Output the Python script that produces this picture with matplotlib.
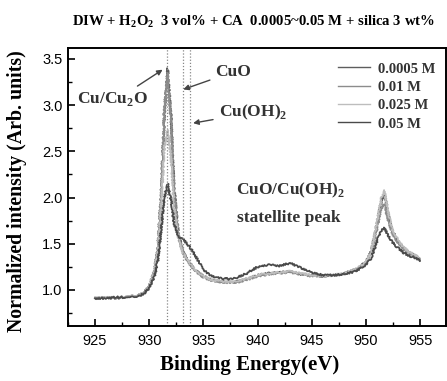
import matplotlib
matplotlib.use("Agg")
import matplotlib.pyplot as plt
from matplotlib.ticker import MultipleLocator
from matplotlib.lines import Line2D

plt.rcParams['mathtext.fontset'] = 'custom'
plt.rcParams['mathtext.rm'] = 'Liberation Serif:bold'
plt.rcParams['mathtext.bf'] = 'Liberation Serif:bold'

# ---- data ----
energy = [925, 926, 927, 928, 929, 929.5, 930, 930.5, 930.8, 931.1, 931.4, 931.7, 932.0,
          932.3, 932.7, 933.1, 933.5, 934, 934.5, 935, 935.5, 936, 937, 938, 939, 940,
          941, 942, 943, 944, 945, 946, 947, 948, 949, 950, 950.5, 951, 951.4, 951.7,
          952, 952.4, 953, 953.5, 954, 954.5, 955]

int_00005 = [0.91, 0.92, 0.91, 0.93, 0.94, 0.97, 1.03, 1.20, 1.45, 2.00, 2.90, 3.40, 2.90,
             2.10, 1.60, 1.42, 1.33, 1.25, 1.19, 1.15, 1.12, 1.10, 1.09, 1.09, 1.12, 1.16,
             1.18, 1.19, 1.20, 1.17, 1.16, 1.15, 1.16, 1.18, 1.22, 1.30, 1.42, 1.70, 1.95,
             2.05, 1.85, 1.65, 1.52, 1.45, 1.40, 1.38, 1.33]
int_001 = [0.92, 0.91, 0.92, 0.92, 0.94, 0.97, 1.04, 1.22, 1.48, 2.05, 2.95, 3.35, 2.85,
           2.05, 1.58, 1.40, 1.32, 1.24, 1.18, 1.14, 1.11, 1.10, 1.08, 1.08, 1.11, 1.15,
           1.17, 1.18, 1.19, 1.17, 1.15, 1.15, 1.16, 1.17, 1.21, 1.29, 1.40, 1.66, 1.88,
           1.93, 1.78, 1.62, 1.50, 1.44, 1.40, 1.37, 1.32]
int_0025 = [0.91, 0.92, 0.92, 0.93, 0.94, 0.97, 1.03, 1.20, 1.42, 1.90, 2.55, 2.73, 2.45,
            1.90, 1.55, 1.40, 1.33, 1.25, 1.19, 1.15, 1.12, 1.10, 1.09, 1.09, 1.12, 1.16,
            1.18, 1.19, 1.20, 1.18, 1.16, 1.15, 1.16, 1.18, 1.22, 1.30, 1.42, 1.72, 1.98,
            2.08, 1.88, 1.66, 1.53, 1.46, 1.41, 1.38, 1.34]
int_005 = [0.91, 0.91, 0.92, 0.92, 0.93, 0.96, 1.02, 1.15, 1.32, 1.65, 2.00, 2.15, 1.98,
           1.72, 1.58, 1.55, 1.50, 1.42, 1.32, 1.22, 1.17, 1.14, 1.12, 1.13, 1.18, 1.25,
           1.27, 1.26, 1.29, 1.24, 1.19, 1.16, 1.16, 1.17, 1.20, 1.27, 1.35, 1.52, 1.64,
           1.67, 1.60, 1.52, 1.45, 1.40, 1.37, 1.35, 1.32]

labels = ['0.0005 M', '0.01 M', '0.025 M', '0.05 M']
series = [int_00005, int_001, int_0025, int_005]
colors = ['#5e5e5e', '#8c8c8c', '#bdbdbd', '#4a4a4a']

ref_lines = [931.6, 933.1, 933.8]

fig = plt.figure(figsize=(4.47, 3.81), dpi=100)
ax = fig.add_axes([0.152, 0.1444, 0.846, 0.730])

for y, c in zip(series, colors):
    ln, = ax.plot(energy, y, color=c, lw=1.3)
    ln.set_sketch_params(0.9, 2.0, 2.0)

for xv in ref_lines:
    ax.axvline(xv, color='#888888', lw=0.9, ls=(0, (1, 1.5)))

ax.set_xlim(922.5, 957.4)
ax.set_ylim(0.61, 3.62)
ax.xaxis.set_major_locator(MultipleLocator(5))
ax.xaxis.set_minor_locator(MultipleLocator(2.5))
ax.yaxis.set_major_locator(MultipleLocator(0.5))
ax.yaxis.set_minor_locator(MultipleLocator(0.25))
ax.set_yticks([1.0, 1.5, 2.0, 2.5, 3.0, 3.5])
ax.tick_params(which='both', direction='in', top=False, right=False)
ax.tick_params(which='major', length=5, width=1.2)
ax.tick_params(which='minor', length=3, width=1.0)
ax.tick_params(axis='x', pad=6)
ax.tick_params(axis='y', pad=4)
for lab in ax.get_xticklabels() + ax.get_yticklabels():
    lab.set_fontfamily('Liberation Sans')
    lab.set_fontsize(10.5)
for sp in ax.spines.values():
    sp.set_linewidth(1.4)

serif_bold = dict(family='Liberation Serif', weight='bold')
fig.text(0.559, 0.042, 'Binding Energy(eV)', ha='center', va='center',
         fontsize=15, **serif_bold)
fig.text(0.038, 0.499, 'Normalized intensity (Arb. units)', ha='center', va='center',
         rotation=90, fontsize=14.3, **serif_bold)

fig.text(0.566, 0.942, r'DIW + H$_2$O$_2$  3 vol% + CA  0.0005~0.05 M + silica 3 wt%',
         ha='center', va='center', fontsize=10.6, **serif_bold)

arrow = dict(arrowstyle='-|>', color='#444444', lw=1.0, mutation_scale=8)
txt = dict(fontsize=12.5, color='#333333', **serif_bold)
ax.text(926.6, 3.07, r'Cu/Cu$_2$O', ha='center', va='center', **txt)
ax.annotate('', xy=(931.45, 3.40), xytext=(928.7, 3.19), arrowprops=arrow)
ax.annotate('CuO', xy=(932.9, 3.16), xytext=(936.1, 3.36),
            ha='left', va='center', arrowprops=arrow, **txt)
ax.annotate(r'Cu(OH)$_2$', xy=(933.8, 2.80), xytext=(936.4, 2.92),
            ha='left', va='center', arrowprops=arrow, **txt)
ax.text(943.05, 2.08, r'CuO/Cu(OH)$_2$', ha='center', va='center', **txt)
ax.text(942.9, 1.78, 'statellite peak', ha='center', va='center', **txt)

handles = [Line2D([], [], color=c, lw=1.0) for c in colors]
leg = ax.legend(handles, labels, loc='upper left', bbox_to_anchor=(0.68, 0.995),
                frameon=False, handlelength=2.2, handletextpad=0.5, labelspacing=0.35,
                prop=dict(family='Liberation Serif', weight='bold', size=10.5))
for t in leg.get_texts():
    t.set_color('#333333')

fig.savefig('out.png', dpi=100)
